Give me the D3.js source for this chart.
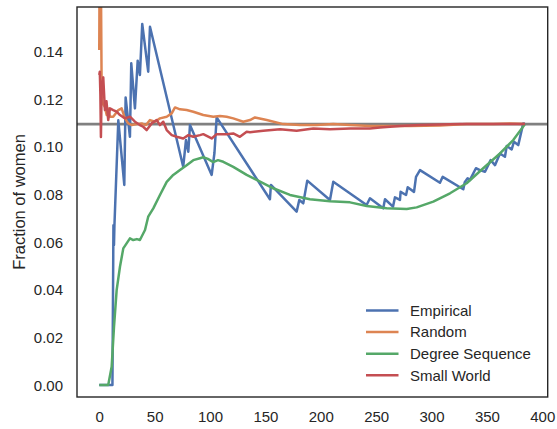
<!DOCTYPE html>
<html>
<head>
<meta charset="utf-8">
<script src="https://cdn.jsdelivr.net/npm/d3@7/dist/d3.min.js"></script>
<style>
  html, body { margin: 0; padding: 0; background: #fff; }
  svg { display: block; }
  svg text { font-family: "Liberation Sans", Arial, sans-serif; fill: #262626; }
</style>
</head>
<body>
<div id="chart"></div>
<script>
// ---- data ----
const seriesNames = ["Empirical", "Random", "Degree Sequence", "Small World"];
const seriesColors = ["#4c72b0", "#dd8452", "#55a868", "#c44e52"];

const empirical = [
  [0, 0], [11.9, 0], [12.8, 0.067], [13.3, 0.0587], [13.7, 0.067], [17.2, 0.111],
  [22.6, 0.0839], [23.8, 0.1206], [27.7, 0.1041], [28.9, 0.1349], [32.2, 0.116],
  [34.7, 0.136], [36.7, 0.130], [38.8, 0.1514], [44.2, 0.1314], [45.8, 0.1502],
  [75.8, 0.0915], [78.3, 0.1027], [80.4, 0.0978], [81.9, 0.109], [101.5, 0.0881],
  [104, 0.0973], [106, 0.1122], [154.1, 0.0779], [155, 0.0839], [178.2, 0.0727],
  [180.6, 0.0776], [184.2, 0.0762], [187.8, 0.0857], [208.3, 0.0776], [211.3, 0.0852],
  [241.4, 0.0755], [244.4, 0.0783], [256.4, 0.0741], [258, 0.0779], [265.2, 0.0748],
  [267, 0.0787], [271.5, 0.0776], [272.1, 0.081], [277, 0.0797], [278.5, 0.0829],
  [284.2, 0.081], [286, 0.0873], [289.6, 0.0901], [307.6, 0.0848], [310.1, 0.0873],
  [328.7, 0.0821], [330, 0.085], [332.6, 0.0867], [334.7, 0.086], [340.1, 0.0909],
  [343.7, 0.0901], [348.3, 0.0894], [353.4, 0.0943], [357.3, 0.0922], [361.8, 0.0971],
  [366.3, 0.0957], [367.9, 0.1002], [372.4, 0.0988], [374.4, 0.102], [378.3, 0.1006],
  [382.8, 0.1097], [384.4, 0.1096]
];

const random = [
  [0, 0.1405], [0.5, 0.20], [1.2, 0.19], [2.2, 0.1209], [3.3, 0.1178], [5.1, 0.1167],
  [6.7, 0.1132], [7.9, 0.116], [9.7, 0.1125], [12.6, 0.1125], [17.2, 0.1153],
  [20.2, 0.116], [23.2, 0.1118], [26.2, 0.1097], [29.3, 0.109], [33.8, 0.1094],
  [38.3, 0.1097], [42.2, 0.109], [45.8, 0.1111], [50.3, 0.1104], [54.8, 0.1118],
  [60.9, 0.1125], [65.4, 0.1139], [68.4, 0.1164], [72.9, 0.1156], [78.9, 0.1153],
  [84.9, 0.1146], [93.9, 0.1132], [102.9, 0.1125], [109, 0.1128], [115, 0.1125],
  [121, 0.1118], [130, 0.1104], [136.1, 0.1111], [140.6, 0.1122], [151.2, 0.1111],
  [166.1, 0.1094], [181.2, 0.109], [196.3, 0.109], [211.3, 0.1094], [226.4, 0.109],
  [244.4, 0.1086], [262.5, 0.1086], [280.5, 0.1086], [307.6, 0.1088], [331.7, 0.1094],
  [355.8, 0.1094], [370.8, 0.1097], [384.4, 0.1094]
];

const degreeSequence = [
  [0, 0], [8.1, 0], [11.2, 0.0077], [13.3, 0.0244], [15.7, 0.0398], [18.7, 0.0496],
  [21.7, 0.0573], [24.7, 0.0594], [27.7, 0.0615], [30.7, 0.0608], [34, 0.0612],
  [36.7, 0.0608], [41.3, 0.065], [44.2, 0.0706], [48.8, 0.0741], [54.8, 0.0797],
  [60.9, 0.0852], [66.8, 0.0881], [72.9, 0.0902], [78.9, 0.0922], [84.9, 0.0943],
  [90.9, 0.0951], [93.9, 0.0955], [98.1, 0.0948], [102.9, 0.0935], [107.2, 0.0943],
  [112, 0.0936], [121, 0.0915], [133.1, 0.0881], [142.1, 0.086], [157.1, 0.0825],
  [172.2, 0.0797], [190.2, 0.0779], [208.3, 0.0771], [226.4, 0.0766], [241.4, 0.0751],
  [259.5, 0.0741], [277.6, 0.0738], [286.6, 0.0745], [301.6, 0.0769], [316.7, 0.0804],
  [331.7, 0.0846], [346.7, 0.0909], [361.8, 0.0971], [373.8, 0.1027], [384.4, 0.1094]
];

const smallWorld = [
  [0, 0.130], [0.5, 0.1314], [1.0, 0.122], [1.5, 0.104], [2.2, 0.125], [3.6, 0.129],
  [5.1, 0.1153], [6.5, 0.119], [8.1, 0.1111], [9.7, 0.116], [12.6, 0.1153],
  [15.7, 0.1146], [18.7, 0.1132], [23.2, 0.1118], [27.7, 0.1125], [32.2, 0.1104],
  [36.7, 0.109], [39.7, 0.1083], [42.8, 0.1069], [47.3, 0.1097], [51.8, 0.1111],
  [54.8, 0.109], [57.8, 0.1104], [60.9, 0.1069], [65.4, 0.1048], [69.9, 0.1041],
  [75.8, 0.1034], [80.4, 0.1048], [84.9, 0.1041], [90.9, 0.1048], [93.9, 0.1052],
  [101.5, 0.1034], [106, 0.1052], [115, 0.1052], [121, 0.1055], [127, 0.1041],
  [133.1, 0.1062], [136.1, 0.106], [148.1, 0.1066], [163.2, 0.1072], [178.2, 0.1066],
  [193.2, 0.1076], [208.3, 0.1072], [226.4, 0.1076], [244.4, 0.1076], [253.5, 0.108],
  [271.5, 0.1086], [289.6, 0.109], [325.7, 0.1094], [355.8, 0.1094], [384.4, 0.1094]
];

const baselineValue = 0.1094;
const xTicks = [0, 50, 100, 150, 200, 250, 300, 350, 400];
const yTicks = [0, 0.02, 0.04, 0.06, 0.08, 0.10, 0.12, 0.14];

// ---- layout ----
const width = 557, height = 429;
const margin = {top: 7, right: 9.3, bottom: 32, left: 77};
const innerWidth = width - margin.left - margin.right;
const innerHeight = height - margin.top - margin.bottom;

const svg = d3.select("#chart").append("svg")
    .attr("width", width).attr("height", height);
const g = svg.append("g").attr("transform", `translate(${margin.left},${margin.top})`);

const x = d3.scaleLinear().domain([-20.1, 404.9]).range([0, innerWidth]);
const y = d3.scaleLinear().domain([-0.005, 0.1585]).range([innerHeight, 0]);

g.append("clipPath").attr("id", "plot-clip")
  .append("rect").attr("width", innerWidth).attr("height", innerHeight);

const plot = g.append("g").attr("clip-path", "url(#plot-clip)");

// reference line (drawn under the series)
plot.append("line")
    .attr("x1", 0).attr("x2", innerWidth)
    .attr("y1", y(baselineValue)).attr("y2", y(baselineValue))
    .attr("stroke", "#808080").attr("stroke-width", 2.6);

const line = d3.line().x(d => x(d[0])).y(d => y(d[1]));
[empirical, random, degreeSequence, smallWorld].forEach((data, i) => {
  plot.append("path")
      .datum(data)
      .attr("fill", "none")
      .attr("stroke", seriesColors[i])
      .attr("stroke-width", 2.5)
      .attr("stroke-linejoin", "round")
      .attr("d", line);
});

// axes (seaborn white style: no tick marks), labels placed by baseline
const xAxis = g.append("g")
    .attr("transform", `translate(0,${innerHeight})`)
    .call(d3.axisBottom(x).tickValues(xTicks).tickSize(0).tickFormat(d3.format("d")));
const yAxis = g.append("g")
    .call(d3.axisLeft(y).tickValues(yTicks).tickSize(0).tickFormat(d3.format(".2f")));
[xAxis, yAxis].forEach(a => {
  a.attr("font-size", null).attr("font-family", null);
  a.select(".domain").remove();
});
xAxis.selectAll(".tick text").attr("y", 25).attr("dy", null).attr("font-size", 15);
yAxis.selectAll(".tick text").attr("x", -14).attr("y", 5.3).attr("dy", null).attr("font-size", 15);

// frame
g.append("rect")
    .attr("width", innerWidth).attr("height", innerHeight)
    .attr("fill", "none").attr("stroke", "#262626").attr("stroke-width", 1.4);

// y label
svg.append("text")
    .attr("transform", `translate(25,${margin.top + innerHeight / 2}) rotate(-90)`)
    .attr("text-anchor", "middle")
    .attr("font-size", 16.5)
    .text("Fraction of women");

// legend
const legend = svg.append("g").attr("transform", "translate(366,310.5)");
seriesNames.forEach((name, i) => {
  const row = legend.append("g").attr("transform", `translate(0,${i * 21.6})`);
  row.append("line").attr("x1", 0).attr("x2", 32.5)
     .attr("stroke", seriesColors[i]).attr("stroke-width", 2.5);
  row.append("text").attr("x", 44).attr("y", 5.3)
     .attr("font-size", 15).text(name);
});
</script>
</body>
</html>
